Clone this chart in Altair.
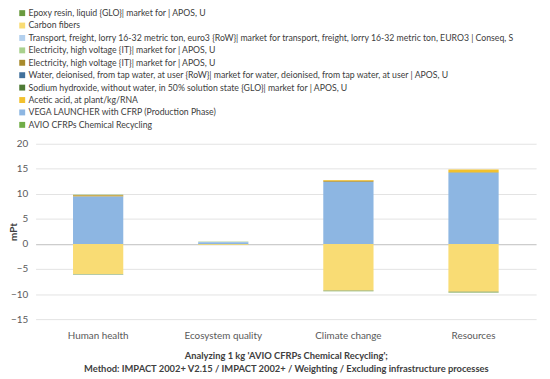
import altair as alt
import pandas as pd

categories = ["Human health", "Ecosystem quality", "Climate change", "Resources"]

series = [
    "Epoxy resin, liquid {GLO}| market for | APOS, U",
    "Carbon fibers",
    "Transport, freight, lorry 16-32 metric ton, euro3 {RoW}| market for transport, freight, lorry 16-32 metric ton, EURO3 | Conseq, S",
    "Electricity, high voltage {IT}| market for | APOS, U",
    "Electricity, high voltage {IT}| market for | APOS, U ",
    "Water, deionised, from tap water, at user {RoW}| market for water, deionised, from tap water, at user | APOS, U",
    "Sodium hydroxide, without water, in 50% solution state {GLO}| market for | APOS, U",
    "Acetic acid, at plant/kg/RNA",
    "VEGA LAUNCHER with CFRP (Production Phase)",
    "AVIO CFRPs Chemical Recycling",
]
colors = ["#6a9a3f", "#f9dc74", "#b3d0ee", "#a9d18e", "#a88a2c",
          "#41719c", "#4e7a35", "#f2c12e", "#8db6e2", "#70ad47"]
stack_rank = [9, 1, 2, 4, 5, 3, 8, 6, 0, 7]

epoxy = [-0.08, -0.03, -0.08, -0.10]
carbon = [-6.0, -0.15, -9.3, -9.55]
transport = [0.05, 0.02, 0.05, 0.05]
elec_green = [0.02, 0.01, 0.02, 0.02]
elec_olive = [0.25, 0.02, 0.15, 0.10]
water = [0.02, 0.01, 0.02, 0.02]
sodium = [-0.04, -0.02, -0.05, -0.05]
acetic = [0.05, 0.0, 0.15, 0.50]
vega = [9.4, 0.35, 12.35, 14.15]
avio = [0.01, 0.01, 0.01, 0.01]

y_ticks = [-15, -10, -5, 0, 5, 10, 15, 20]

values = [epoxy, carbon, transport, elec_green, elec_olive, water, sodium, acetic, vega, avio]

rows = []
for s, vals, rk in zip(series, values, stack_rank):
    for c, v in zip(categories, vals):
        rows.append({"cat": c, "series": s, "value": v, "rank": rk})
df = pd.DataFrame(rows)

font = "Lato"

grid_color = {"condition": {"test": "datum.value === 0", "value": "#bfbfbf"}, "value": "#e3e3e3"}

chart = alt.Chart(df).mark_bar(size=51).encode(
    x=alt.X("cat:N", sort=categories, scale=alt.Scale(paddingInner=0.6, paddingOuter=0.3),
            axis=alt.Axis(title=["Analyzing 1 kg 'AVIO CFRPs Chemical Recycling';",
                                 "Method: IMPACT 2002+ V2.15 / IMPACT 2002+ / Weighting / Excluding infrastructure processes"],
                          labelAngle=0, ticks=False, domain=False, labelPadding=12,
                          labelFontSize=10, labelColor="#595959", labelFont=font,
                          titleFont=font, titleFontSize=9.5, titleFontWeight="bold",
                          titleColor="#404040", titlePadding=10, titleLineHeight=13)),
    y=alt.Y("value:Q", scale=alt.Scale(domain=[-15, 20], nice=False),
            axis=alt.Axis(title="mPt", values=y_ticks,
                          domain=False, ticks=False, gridColor=grid_color,
                          labelOverlap=False,
                          labelFontSize=10, labelColor="#595959", labelFont=font,
                          labelPadding=8, titleFont=font, titleFontSize=10,
                          titleFontWeight="bold", titleColor="#404040",
                          titleX=-22, titleY=89, titleAngle=270,
                          titleAlign="center", titleBaseline="middle")),
    color=alt.Color("series:N", scale=alt.Scale(domain=series, range=colors),
                    legend=alt.Legend(title=None, orient="none", legendX=-18, legendY=-137,
                                      direction="vertical", symbolType="square",
                                      symbolSize=36, symbolStrokeWidth=0,
                                      labelFont=font, labelFontSize=8.85,
                                      labelOffset=2,
                                      labelColor="#404040", labelLimit=600,
                                      rowPadding=2.6, symbolOffset=0)),
    order=alt.Order("rank:Q"),
).properties(
    width=508, height=178,
    autosize=alt.AutoSizeParams(type="none"),
    padding={"left": 28, "top": 135, "right": 6, "bottom": 58},
).configure_view(stroke=None)

chart.save("out.html", embed_options={"renderer": "svg", "actions": False})
